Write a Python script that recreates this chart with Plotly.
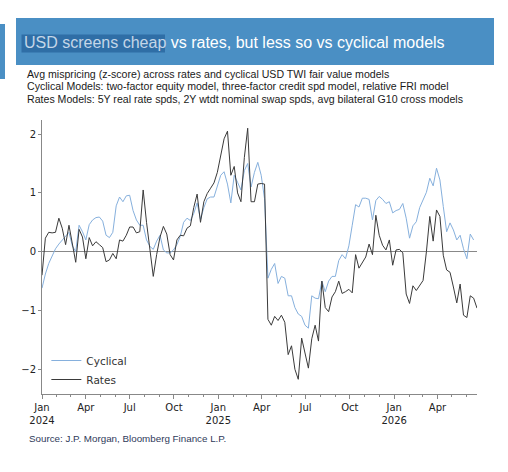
import pandas as pd
import plotly.graph_objects as go

dates = pd.date_range("2024-01-01", periods=130, freq="7D")

cyclical = [
    -0.62, -0.38, -0.20, -0.08, 0.05, 0.13, 0.20, 0.27, 0.33, 0.10,
    0.00, 0.45, 0.34, 0.20, 0.46, 0.54, 0.58, 0.59, 0.52, 0.28,
    0.24, 0.33, 0.78, 0.93, 0.85, 0.95, 0.96, 0.70, 0.54, 0.45,
    0.45, 0.20, 0.09, 0.04, 0.18, 0.28, 0.03, -0.02, -0.02, 0.03,
    0.12, 0.26, 0.50, 0.57, 0.53, 0.65, 0.83, 0.55, 0.75, 0.90,
    0.93, 0.93, 1.10, 1.30, 1.36, 1.15, 0.83, 1.30, 1.18, 1.05,
    1.38, 1.50, 1.10, 1.35, 1.52, 1.30, 0.90, -0.45, -0.30, -0.20,
    -0.54, -0.42, -0.45, -0.75, -0.75, -0.95, -1.06, -1.10, -1.25, -1.30,
    -0.75, -0.79, -0.80, -0.50, -0.68, -0.50, -0.42, -0.42, -0.15, -0.05,
    -0.12, 0.10, 0.45, 0.80, 0.76, 0.91, 0.91, 0.89, 0.54, 0.87,
    0.94, 0.89, 0.82, 0.85, 0.66, 0.70, 0.72, 0.82, 0.57, 0.23,
    0.44, 0.51, 0.75, 0.88, 1.01, 1.25, 1.12, 1.42, 1.22, 0.77,
    0.34, 0.49, 0.37, 0.20, 0.28, 0.05, -0.12, 0.30, 0.20, None,
]

rates = [
    -0.40, 0.23, 0.33, 0.32, 0.33, 0.57, 0.40, 0.12, 0.45, 0.10,
    -0.18, 0.38, 0.25, -0.12, 0.24, 0.10, 0.17, 0.12, 0.07, -0.17,
    -0.14, -0.03, -0.12, 0.20, 0.18, 0.28, 0.42, 0.42, 0.32, 0.34,
    1.05, 0.50, 0.00, -0.42, -0.05, 0.25, 0.43, 0.30, -0.05, -0.14,
    0.20, 0.28, 0.27, 0.40, 0.44, 0.75, 0.98, 0.50, 0.85, 0.99,
    1.08, 1.17, 1.35, 1.66, 1.92, 2.05, 1.30, 1.45, 1.00, 0.85,
    1.60, 2.10, 0.85, 0.85, 1.15, 1.16, 1.15, -1.15, -1.25, -1.10,
    -1.17, -1.08, -1.20, -1.75, -1.60, -2.00, -2.17, -1.47, -1.70, -1.98,
    -1.48, -1.25, -1.52, -0.50, -0.95, -1.02, -0.77, -0.68, -0.50, -0.71,
    -0.68, -0.64, -0.70, -0.05, -0.28, -0.18, -0.09, 0.13, -0.05, 0.62,
    0.28, 0.11, 0.03, 0.20, -0.23, 0.03, 0.04, -0.02, -0.72, -0.88,
    -0.58, -0.66, -0.58, -0.49, 0.00, 0.60, 0.18, 0.71, 0.60, -0.06,
    -0.31, -0.35, -0.60, -0.87, -0.55, -1.08, -1.12, -0.75, -0.79, -0.96,
]

tick_dates = ["2024-01-01", "2024-04-01", "2024-07-01", "2024-10-01", "2025-01-01",
              "2025-04-01", "2025-07-01", "2025-10-01", "2026-01-01", "2026-04-01"]
tick_text = ["Jan<br>2024", "Apr", "Jul", "Oct", "Jan<br>2025",
             "Apr", "Jul", "Oct", "Jan<br>2026", "Apr"]
y_ticks = [-2, -1, 0, 1, 2]

title_hl = "USD screens cheap"
title_rest = " vs rates, but less so vs cyclical models"
subtitles = [
    "Avg mispricing (z-score) across rates and cyclical USD TWI fair value models",
    "Cyclical Models: two-factor equity model, three-factor credit spd model, relative FRI model",
    "Rates Models: 5Y real rate spds, 2Y wtdt nominal swap spds, avg bilateral G10 cross models",
]
source = "Source: J.P. Morgan, Bloomberg Finance L.P."

W, H = 508, 472
L, R, T, B = 42, 477, 120, 394


def px(x):
    return (x - L) / (R - L)


def py(y):
    return (B - y) / (B - T)


fig = go.Figure()
fig.add_trace(go.Scatter(x=dates, y=cyclical, mode="lines", name="Cyclical",
                         line=dict(color="#86b0dd", width=1)))
fig.add_trace(go.Scatter(x=dates, y=rates, mode="lines", name="Rates",
                         line=dict(color="#3a3a3a", width=1)))

fig.update_layout(
    width=W, height=H,
    margin=dict(l=L, r=W - R, t=T, b=H - B, pad=0),
    paper_bgcolor="white", plot_bgcolor="white",
    font=dict(family="DejaVu Sans", size=10, color="#222222"),
    showlegend=True,
    legend=dict(x=0.01, y=0.0, xanchor="left", yanchor="bottom",
                bgcolor="rgba(0,0,0,0)", font=dict(size=10.5, color="#333333"),
                tracegroupgap=0, itemwidth=30),
    xaxis=dict(range=[dates[0], dates[-1]], tickvals=tick_dates, ticktext=tick_text,
               showgrid=False, zeroline=False, showline=True, linecolor="#888888",
               linewidth=1, ticks="outside", ticklen=4, tickcolor="#888888",
               tickangle=0,
               minor=dict(dtick="M1", tick0="2024-01-01", ticks="outside", ticklen=2,
                          tickcolor="#888888", showgrid=False)),
    yaxis=dict(range=[-2.42, 2.24], tickvals=y_ticks, showgrid=False,
               zeroline=True, zerolinecolor="#888888", zerolinewidth=1,
               showline=True, linecolor="#888888", linewidth=1,
               ticks="outside", ticklen=3, tickcolor="#888888"),
)

shapes = [
    dict(type="rect", xref="paper", yref="paper", x0=px(0), x1=px(5), y0=py(79), y1=py(24),
         fillcolor="#4a8fc4", line=dict(width=0), layer="above"),
    dict(type="rect", xref="paper", yref="paper", x0=px(16), x1=px(494), y0=py(65), y1=py(18),
         fillcolor="#4a8fc4", line=dict(width=0), layer="above"),
    dict(type="rect", xref="paper", yref="paper", x0=px(21.5), x1=px(165), y0=py(52.5), y1=py(34.5),
         fillcolor="#2f6ea6", line=dict(width=0), layer="above"),
]
fig.update_layout(shapes=shapes)

ann = []
ann.append(dict(text="<span style='color:#c4d6e8'>" + title_hl + "</span>" + title_rest,
                x=px(22), y=py(43), xref="paper", yref="paper", xanchor="left", yanchor="middle",
                showarrow=False, font=dict(family="Liberation Sans", size=16, color="#ffffff")))
for s, yy in zip(subtitles, [74.5, 86.5, 98.5]):
    ann.append(dict(text=s, x=px(25), y=py(yy), xref="paper", yref="paper",
                    xanchor="left", yanchor="middle", showarrow=False,
                    font=dict(family="Liberation Sans", size=10.6, color="#1a1a1a")))
ann.append(dict(text=source, x=px(27), y=py(438), xref="paper", yref="paper",
                xanchor="left", yanchor="middle", showarrow=False,
                font=dict(family="Liberation Sans", size=9.8, color="#2f3a5a")))
fig.update_layout(annotations=ann)

fig.write_html("out.html")
